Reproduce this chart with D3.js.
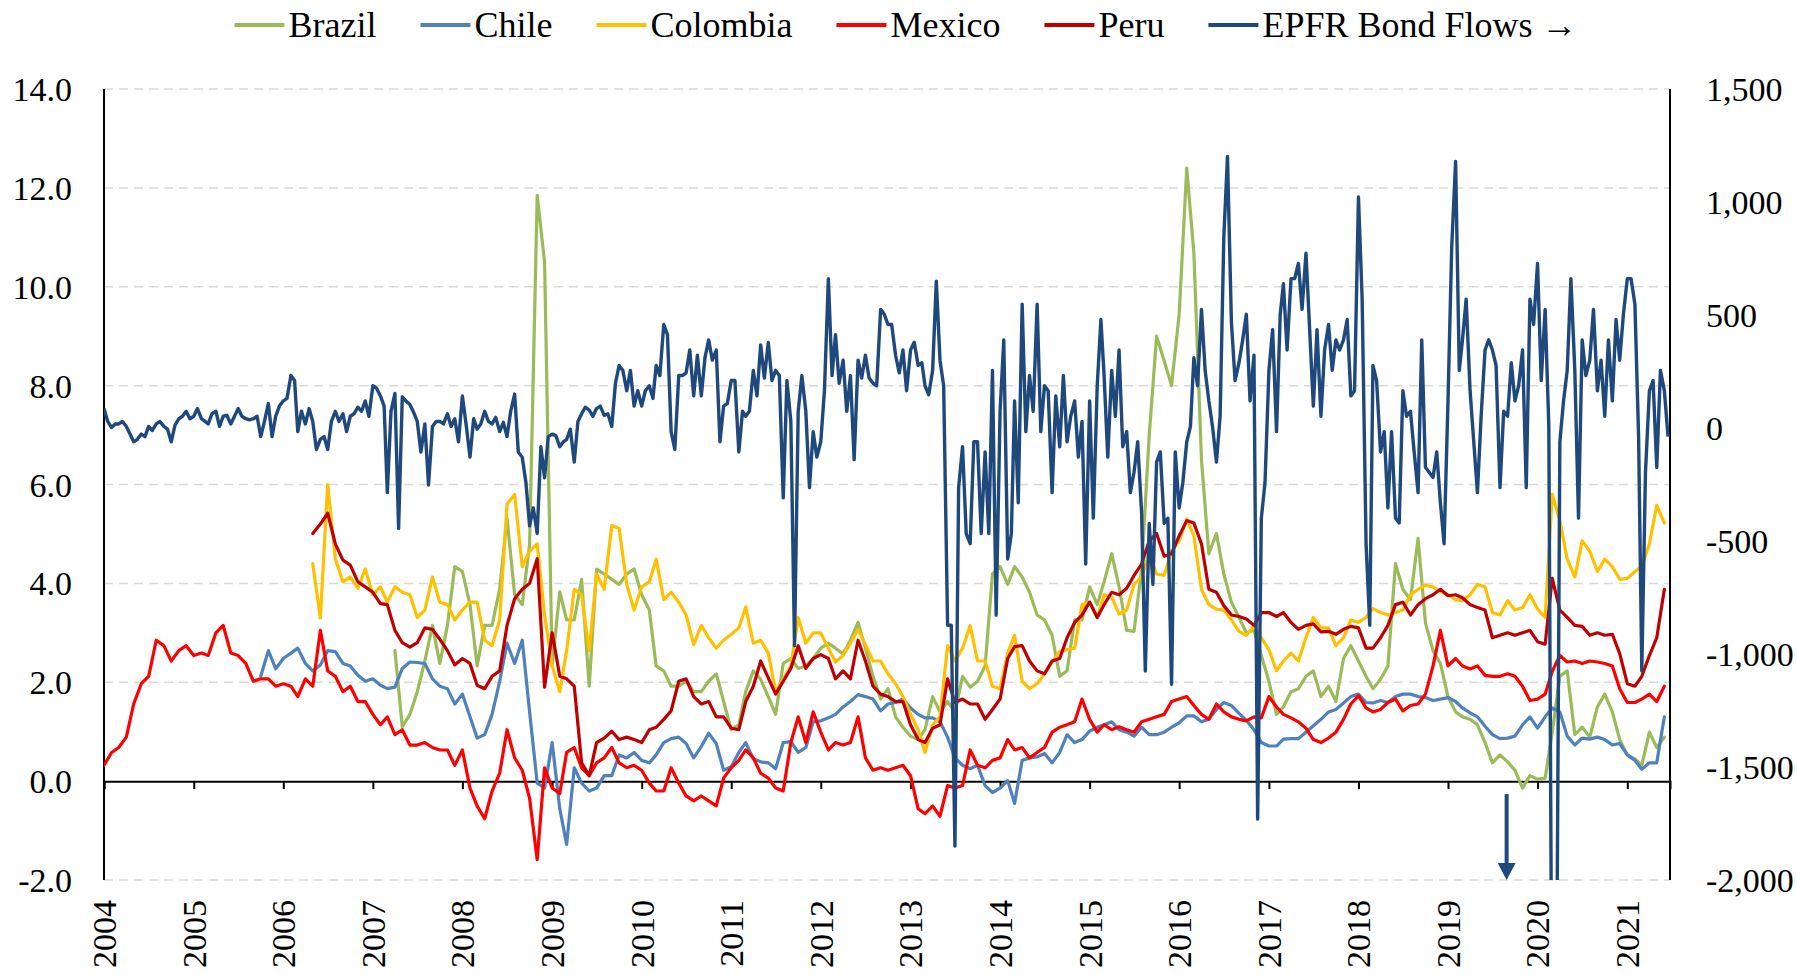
<!DOCTYPE html>
<html>
<head>
<meta charset="utf-8">
<script src="https://cdn.jsdelivr.net/npm/d3@7"></script>
<style>
  html, body { margin: 0; padding: 0; background: #fff; }
  svg { display: block; }
</style>
</head>
<body>
<div id="chart"></div>
<script>
// ---- data (monthly for countries starting Jan 2004, semi-monthly for EPFR) ----
const seriesNames = ["Brazil", "Chile", "Colombia", "Mexico", "Peru"];
const seriesColors = ["#9BBB59", "#4F81BD", "#FFC000", "#FF0000", "#C00000"];
const flowName = "EPFR Bond Flows \u2192";
const flowColor = "#1F497D";
const yearTicks = d3.range(2004, 2022);
const leftTicks = [-2, 0, 2, 4, 6, 8, 10, 12, 14];
const rightTicks = [-2000, -1500, -1000, -500, 0, 500, 1000, 1500];

const N = null;
const mexico = [
  0.32, 0.58, 0.68, 0.89, 1.56, 1.97, 2.12, 2.85, 2.74, 2.43, 2.64, 2.74,
  2.54, 2.59, 2.54, 3.0, 3.15, 2.59, 2.54, 2.38, 2.02, 2.07, 2.07, 1.92,
  1.97, 1.92, 1.71, 2.07, 1.92, 3.05, 2.23, 2.12, 1.81, 1.92, 1.61, 1.61,
  1.35, 1.14, 1.3, 0.94, 1.04, 0.73, 0.73, 0.78, 0.68, 0.63, 0.63, 0.32,
  0.63, -0.14, -0.5, -0.76, -0.2, 0.16, 1.04, 0.47, 0.22, -0.35, -1.59, 0.27,
  -0.14, -0.25, 0.58, 0.68, 0.27, 0.11, 0.37, 0.47, 0.68, 0.37, 0.27, 0.32,
  0.22, -0.04, -0.2, -0.2, 0.27, -0.04, -0.3, -0.4, -0.3, -0.4, -0.5, 0.06,
  0.27, 0.42, 0.63, 0.47, 0.16, 0.06, -0.14, -0.2, 0.78, 1.3, 0.78, 1.4,
  0.99, 0.63, 0.78, 0.73, 0.78, 1.3, 0.47, 0.22, 0.27, 0.22, 0.27, 0.32,
  0.11, -0.56, -0.66, -0.5, -0.71, -0.09, -0.14, -0.09, 0.63, 0.32, 0.27, 0.42,
  0.47, 0.84, 0.63, 0.68, 0.47, 0.58, 0.68, 0.99, 1.09, 1.14, 1.2, 1.66,
  1.25, 0.99, 1.14, 1.04, 1.1, 1.04, 0.99, 1.2, 1.25, 1.3, 1.35, 1.61,
  1.66, 1.71, 1.53, 1.35, 1.25, 1.56, 1.4, 1.3, 1.25, 1.22, 1.3, 1.28,
  1.71, 1.5, 1.35, 1.28, 1.2, 1.07, 0.84, 0.78, 0.87, 0.99, 1.25, 1.56,
  1.73, 1.48, 1.4, 1.45, 1.59, 1.66, 1.42, 1.53, 1.56, 1.76, 2.33, 3.05,
  2.33, 2.48, 2.33, 2.27, 2.33, 2.14, 2.12, 2.12, 2.17, 2.12, 1.92, 1.63,
  1.66, 1.76, 2.22, 2.54, 2.41, 2.43, 2.38, 2.43, 2.41, 2.38, 2.33, 1.87,
  1.59, 1.59, 1.66, 1.76, 1.61, 1.92
];
const peru = [
  N, N, N, N, N, N, N, N, N, N, N, N,
  N, N, N, N, N, N, N, N, N, N, N, N,
  N, N, N, N, 5.01, 5.2, 5.42, 4.8, 4.47, 4.37, 4.03, 3.93,
  3.82, 3.59, 3.57, 3.05, 2.8, 2.71, 2.8, 3.1, 3.07, 2.87, 2.64, 2.35,
  2.48, 2.38, 1.94, 1.87, 2.12, 2.23, 3.15, 3.69, 3.88, 4.0, 4.5, 1.9,
  3.0, 2.12, 2.07, 1.92, 0.37, 0.11, 0.78, 0.87, 1.01, 0.84, 0.89, 0.84,
  0.78, 1.04, 1.09, 1.25, 1.42, 2.02, 2.07, 1.71, 1.56, 1.61, 1.3, 1.3,
  1.07, 1.04, 1.61, 1.92, 2.43, 2.09, 1.76, 2.02, 2.28, 2.74, 2.28, 2.48,
  2.56, 2.48, 2.07, 2.23, 2.07, 2.85, 2.43, 1.92, 1.76, 1.71, 1.61, 1.61,
  1.14, 0.84, 0.78, 1.07, 1.14, 2.07, 1.59, 1.66, 1.56, 1.56, 1.25, 1.45,
  1.66, 2.48, 2.72, 2.74, 2.43, 2.23, 2.17, 2.43, 2.48, 2.9, 3.21, 3.36,
  3.62, 3.31, 3.57, 3.82, 3.77, 3.9, 4.16, 4.39, 4.86, 5.01, 4.55, 4.6,
  4.96, 5.27, 5.22, 4.8, 3.88, 3.82, 3.55, 3.36, 3.33, 3.28, 3.15, 3.41,
  3.41, 3.33, 3.41, 3.21, 3.07, 3.15, 3.18, 3.02, 3.03, 2.97, 3.07, 3.13,
  3.1, 2.69, 2.69, 2.9, 3.15, 3.57, 3.62, 3.36, 3.57, 3.69, 3.77, 3.88,
  3.75, 3.77, 3.71, 3.57, 3.51, 3.46, 2.9, 2.95, 3.0, 2.95, 3.0, 3.05,
  2.82, 2.77, 4.1, 3.46, 3.31, 3.15, 3.13, 2.95, 3.0, 2.95, 2.97, 2.58,
  1.97, 1.92, 2.12, 2.54, 2.9, 3.88
];
const colombia = [
  N, N, N, N, N, N, N, N, N, N, N, N,
  N, N, N, N, N, N, N, N, N, N, N, N,
  N, N, N, N, 4.4, 3.3, 6.0, 4.5, 4.03, 4.13, 3.9, 4.29,
  3.77, 3.93, 3.62, 3.93, 3.82, 3.77, 3.31, 3.46, 4.13, 3.62, 3.57, 3.26,
  3.46, 3.62, 3.62, 2.85, 2.74, 3.26, 5.6, 5.8, 4.34, 4.65, 4.8, 3.36,
  2.33, 1.81, 2.64, 3.88, 3.77, 2.64, 4.19, 3.88, 5.17, 5.11, 3.98, 3.46,
  3.93, 4.03, 4.49, 3.67, 3.82, 3.62, 3.36, 2.76, 3.15, 2.9, 2.69, 2.85,
  2.97, 3.1, 3.52, 2.79, 2.85, 2.59, 1.81, 2.07, 2.33, 3.31, 2.79, 3.0,
  3.0, 2.69, 2.41, 2.54, 2.79, 3.07, 2.76, 2.43, 2.43, 2.17, 1.97, 1.71,
  1.35, 1.04, 0.58, 1.14, 1.3, 2.74, 2.43, 2.69, 3.15, 2.43, 2.43, 1.92,
  1.87, 2.59, 2.95, 2.02, 1.87, 1.97, 2.17, 2.41, 2.62, 2.66, 2.69, 3.57,
  3.62, 3.31, 3.77, 3.72, 3.38, 3.46, 3.98, 4.13, 4.6, 4.19, 4.16, 4.65,
  4.86, 5.3, 4.96, 3.88, 3.57, 3.48, 3.46, 3.26, 3.03, 2.95, 3.13, 2.9,
  2.66, 2.23, 2.43, 2.59, 2.43, 2.9, 3.31, 3.1, 3.1, 2.74, 2.9, 3.26,
  3.21, 3.31, 3.49, 3.41, 3.36, 3.41, 3.46, 3.77, 3.88, 3.96, 3.93, 3.84,
  3.77, 3.67, 3.65, 3.77, 3.98, 3.93, 3.41, 3.36, 3.65, 3.46, 3.51, 3.77,
  3.48, 3.31, 5.8, 5.27, 4.49, 4.13, 4.86, 4.65, 4.24, 4.49, 4.34, 4.08,
  4.1, 4.24, 4.34, 4.8, 5.58, 5.22
];
const chile = [
  N, N, N, N, N, N, N, N, N, N, N, N,
  N, N, N, N, N, N, N, N, N, 2.12, 2.64, 2.27,
  2.48, 2.59, 2.69, 2.38, 2.23, 2.35, 2.64, 2.62, 2.38, 2.33, 2.14, 2.02,
  2.07, 1.94, 1.87, 1.9, 2.28, 2.41, 2.4, 2.38, 2.07, 1.92, 1.87, 1.56,
  1.76, 1.3, 0.87, 0.94, 1.35, 2.02, 2.79, 2.38, 2.85, 1.4, -0.04, -0.14,
  0.78, -0.56, -1.28, 0.27, -0.04, -0.2, -0.14, 0.11, 0.11, 0.53, 0.47, 0.58,
  0.42, 0.37, 0.53, 0.78, 0.86, 0.89, 0.76, 0.47, 0.7, 0.97, 0.76, 0.22,
  0.29, 0.58, 0.78, 0.45, 0.39, 0.37, 0.25, 0.78, 0.8, 0.58, 0.68, 1.2,
  1.22, 1.28, 1.35, 1.5, 1.61, 1.75, 1.71, 1.66, 1.42, 1.56, 1.59, 1.66,
  1.48, 1.35, 1.28, 1.28, 1.2, 0.89, 0.47, 0.32, 0.25, 0.32, -0.09, -0.23,
  -0.14, 0.01, -0.45, 0.42, 0.47, 0.49, 0.56, 0.37, 0.58, 0.94, 0.78, 0.84,
  1.01, 1.09, 1.14, 1.2, 1.04, 0.99, 0.91, 1.09, 0.94, 0.94, 0.99, 1.09,
  1.18, 1.32, 1.32, 1.2, 1.25, 1.45, 1.59, 1.53, 1.37, 1.23, 1.04, 0.78,
  0.71, 0.71, 0.85, 0.86, 0.86, 0.99, 1.12, 1.25, 1.4, 1.45, 1.58, 1.71,
  1.76, 1.59, 1.58, 1.63, 1.59, 1.71, 1.76, 1.76, 1.71, 1.69, 1.63, 1.66,
  1.69, 1.61, 1.48, 1.38, 1.3, 1.11, 0.94, 0.86, 0.87, 0.91, 1.14, 1.3,
  1.07, 1.3, 1.48, 1.4, 0.91, 0.73, 0.87, 0.85, 0.89, 0.84, 0.73, 0.76,
  0.53, 0.42, 0.24, 0.37, 0.37, 1.3
];
const brazil = [
  N, N, N, N, N, N, N, N, N, N, N, N,
  N, N, N, N, N, N, N, N, N, N, N, N,
  N, N, N, N, N, N, N, N, N, N, N, N,
  N, N, N, 2.64, 1.1, 1.35, 1.81, 2.43, 3.15, 2.38, 3.15, 4.34,
  4.24, 3.57, 2.33, 3.15, 3.15, 3.88, 5.32, 3.77, 3.57, 4.8, 11.85, 10.5,
  2.33, 3.83, 3.26, 3.26, 4.08, 1.92, 4.29, 4.19, 4.08, 3.98, 4.19, 4.29,
  3.77, 3.46, 2.33, 2.23, 1.92, 1.92, 2.02, 1.81, 1.81, 2.02, 2.17, 1.61,
  1.04, 1.14, 1.81, 2.23, 2.06, 1.71, 1.35, 2.38, 2.48, 2.28, 2.33, 2.48,
  2.69, 2.79, 2.69, 2.57, 2.85, 3.21, 2.69, 2.12, 1.66, 1.87, 1.3, 1.09,
  0.91, 0.84, 1.04, 1.71, 1.4, 1.61, 1.4, 2.12, 1.9, 2.02, 2.33, 4.19,
  4.34, 3.98, 4.34, 4.13, 3.82, 3.36, 3.26, 2.95, 2.12, 2.23, 3.26, 3.26,
  3.93, 3.57, 4.03, 4.6, 3.93, 3.05, 3.03, 4.29, 7.0, 9.0, 8.5, 8.0,
  9.44, 12.4, 10.68, 6.5, 4.6, 5.01, 4.19, 3.62, 3.31, 3.0, 3.05, 2.54,
  2.02, 1.35, 1.5, 1.81, 1.87, 2.12, 2.23, 1.71, 1.92, 1.61, 2.48, 2.74,
  2.43, 2.12, 1.87, 2.06, 2.33, 4.4, 3.88, 3.67, 4.91, 3.2, 2.64, 2.38,
  1.71, 1.4, 1.3, 1.25, 1.14, 0.78, 0.37, 0.53, 0.39, 0.22, -0.14, 0.11,
  0.04, 0.06, 0.99, 2.12, 2.23, 0.94, 1.09, 0.89, 1.5, 1.76, 1.4, 0.84,
  0.53, 0.45, 0.32, 0.99, 0.68, 0.89
];
// EPFR bond flows, two readings per month from Jan 2004
const flows = [
  86, 29, 2, 18, 18, 29, 7, -27, -61, -50,
  -27, -38, 7, -11, 18, 29, 7, -5, -61, 11,
  41, 52, 74, 41, 52, 86, 41, 29, 18, 63,
  74, 7, 52, 56, 18, 52, 86, 52, 41, 36,
  41, 52, -38, 29, 108, -38, 52, 97, 120, 131,
  232, 210, -16, 74, 18, 86, 29, -95, -50, -38,
  -95, 29, 74, 29, 63, -16, 52, 63, 92, 74,
  120, 52, 187, 176, 142, 97, -286, 74, 153, -444,
  138, 120, 104, 70, 29, -106, 18, -252, 7, 29,
  29, 18, 63, 7, 41, -61, 142, 18, -129, 41,
  -5, 18, 74, 29, 18, 47, -16, 25, -38, 74,
  150, -106, -129, -241, -433, -354, -467, -83, -220, -38,
  -27, -34, -83, -61, -50, -5, -151, 29, 63, 92,
  79, 52, 86, 97, 56, 63, 7, 198, 277, 255,
  165, 255, 97, 165, 97, 165, 187, 131, 277, 232,
  458, 413, -16, -95, 232, 232, 244, 345, 142, 322,
  142, 311, 390, 300, 345, -61, 97, 108, 210, 210,
  -106, 74, 52, 74, 255, 142, 368, 221, 379, 210,
  255, 232, -309, 210, 29, -963, 74, 232, 74, -264,
  -16, -129, -61, 165, 661, 232, 413, 198, 300, 74,
  232, -140, 300, 221, 322, 221, 198, 187, 525, 503,
  458, 458, 322, 244, 345, 165, 345, 379, 277, 289,
  187, 147, 255, 650, 300, 187, -873, -873, -1850, -264,
  -83, -467, -512, -61, -61, -467, -106, -467, 255, -828,
  74, 390, -580, -467, 120, -331, 548, -16, 232, 74,
  548, -16, 187, 165, -286, 142, -83, 232, -61, 52,
  120, -129, 29, -602, 120, -399, 187, 480, 232, -129,
  255, 52, 345, -83, -16, -286, -196, -61, -377, -1075,
  -422, -692, -151, -106, -422, -399, -1134, -106, -354, -241,
  -61, 7, 311, 187, 525, 255, 120, 7, -151, 52,
  841, 1202, 469, 210, 289, 390, 503, 120, 322, -1730,
  -399, -241, 255, 435, -16, 503, 638, 345, 661, 661,
  728, 525, 773, 435, 97, 435, 52, 345, 458, 255,
  390, 345, 390, 480, 142, 165, 1022, 570, -512, -873,
  277, 210, -106, -16, -354, -16, -399, -420, 165, 52,
  74, -106, -286, 390, -174, -196, -219, -106, -331, -512,
  120, 796, 1179, 255, 390, 570, 165, -61, -286, 52,
  345, 390, 345, 277, -264, 74, 52, 289, 120, 187,
  345, -264, 570, 458, 728, 210, 525, 7, -3000, -3000,
  -61, 120, 255, 661, 255, -399, 390, 232, 300, 525,
  165, 300, 52, 390, 120, 480, 300, 503, 661, 661,
  548, -38, -1075, -196, 165, 210, -174, 255, 165, -38
];
// off-scale marker (arrow pointing down on the flows axis)
const arrowDate = new Date(2019, 7, 28);
const arrowFrom = -1620;

// ---- layout ----
const width = 1797, height = 974;
const marginLeft = 104, marginRight = 127, marginTop = 89, marginBottom = 94;
const font = "'Liberation Serif', 'Times New Roman', serif";
const tickSize = 34;

// hyphen instead of unicode minus, like the original
const fmtLeft = d => d3.format(".1f")(d).replace("\u2212", "-");
const fmtRight = d => d3.format(",")(d).replace("\u2212", "-");

const x = d3.scaleTime()
  .domain([new Date(2004, 0, 1), new Date(2021, 5, 24)])
  .range([marginLeft, width - marginRight]);
const y = d3.scaleLinear().domain([-2, 14]).range([height - marginBottom, marginTop]);
const y2 = d3.scaleLinear().domain([-2000, 1500]).range([height - marginBottom, marginTop]);

const svg = d3.select("#chart").append("svg")
  .attr("width", width)
  .attr("height", height)
  .attr("viewBox", [0, 0, width, height])
  .style("font-family", font);

svg.append("rect").attr("width", width).attr("height", height).attr("fill", "#fff");

svg.append("clipPath").attr("id", "plot-clip")
  .append("rect")
  .attr("x", marginLeft).attr("y", marginTop)
  .attr("width", width - marginLeft - marginRight)
  .attr("height", height - marginTop - marginBottom);

// gridlines (dashed) from left axis ticks
svg.append("g")
  .selectAll("line")
  .data(leftTicks.filter(d => d !== 0))
  .join("line")
  .attr("x1", marginLeft).attr("x2", width - marginRight)
  .attr("y1", d => y(d)).attr("y2", d => y(d))
  .attr("stroke", "#d9d9d9")
  .attr("stroke-width", 1.5)
  .attr("stroke-dasharray", "9,6");

// left axis labels
svg.append("g")
  .attr("transform", `translate(${marginLeft},0)`)
  .call(d3.axisLeft(y).tickValues(leftTicks).tickFormat(fmtLeft).tickSize(0).tickPadding(32))
  .call(g => g.select(".domain").remove())
  .call(g => g.selectAll(".tick text")
    .attr("font-family", font).attr("font-size", tickSize).attr("fill", "#000").attr("dy", "0.34em"));

// right axis labels
svg.append("g")
  .attr("transform", `translate(${width - marginRight},0)`)
  .call(d3.axisRight(y2).tickValues(rightTicks).tickFormat(fmtRight).tickSize(0).tickPadding(36))
  .call(g => g.select(".domain").remove())
  .call(g => g.selectAll(".tick text")
    .attr("font-family", font).attr("font-size", tickSize).attr("fill", "#000").attr("dy", "0.34em"));

// zero line with year ticks
svg.append("g")
  .attr("transform", `translate(0,${y(0)})`)
  .call(d3.axisBottom(x).tickValues(yearTicks.map(yr => new Date(yr, 0, 1))).tickSize(8).tickFormat(""))
  .call(g => g.select(".domain").attr("stroke", "#000").attr("stroke-width", 2))
  .call(g => g.selectAll(".tick line").attr("stroke", "#000").attr("stroke-width", 2));

// year labels, rotated, under the plot
svg.append("g")
  .selectAll("text")
  .data(yearTicks)
  .join("text")
  .attr("transform", d => `translate(${x(new Date(d, 0, 1))},${height - marginBottom + 20}) rotate(-90)`)
  .attr("text-anchor", "end")
  .attr("dy", "0.35em")
  .attr("font-size", tickSize)
  .attr("fill", "#000")
  .text(d => d);

// vertical axis lines
svg.append("g")
  .selectAll("line")
  .data([marginLeft, width - marginRight])
  .join("line")
  .attr("x1", d => d).attr("x2", d => d)
  .attr("y1", marginTop).attr("y2", height - marginBottom)
  .attr("stroke", "#000")
  .attr("stroke-width", 2);

// country series
const monthDate = i => new Date(2004, i, 1);
const countryData = [brazil, chile, colombia, mexico, peru];
const line = d3.line()
  .defined(d => d != null)
  .x((d, i) => x(monthDate(i)))
  .y(d => y(d));

const plot = svg.append("g").attr("clip-path", "url(#plot-clip)");

plot.selectAll("path.country")
  .data(countryData)
  .join("path")
  .attr("class", "country")
  .attr("fill", "none")
  .attr("stroke", (d, i) => seriesColors[i])
  .attr("stroke-width", 3.2)
  .attr("stroke-linejoin", "round")
  .attr("stroke-linecap", "round")
  .attr("d", line);

// EPFR flows, right axis
const halfMonthDate = k => new Date(2004, Math.floor(k / 2), k % 2 ? 16 : 1);
const flowLine = d3.line()
  .x((d, k) => x(halfMonthDate(k)))
  .y(d => y2(d));

plot.append("path")
  .datum(flows)
  .attr("fill", "none")
  .attr("stroke", flowColor)
  .attr("stroke-width", 3.4)
  .attr("stroke-linejoin", "round")
  .attr("d", flowLine);

// arrow for the off-scale flow
const ax = x(arrowDate);
const tipY = y2(-2000);
svg.append("line")
  .attr("x1", ax).attr("x2", ax)
  .attr("y1", y2(arrowFrom)).attr("y2", tipY - 14)
  .attr("stroke", flowColor)
  .attr("stroke-width", 4);
svg.append("path")
  .attr("d", `M${ax - 9},${tipY - 17} L${ax + 9},${tipY - 17} L${ax},${tipY} Z`)
  .attr("fill", flowColor);

// legend
const legendItems = seriesNames.map((n, i) => ({ name: n, color: seriesColors[i] }))
  .concat([{ name: flowName, color: flowColor }]);
const legend = svg.append("g").attr("font-size", 36);
const legendY = 25;
const sample = 50, sampleGap = 4, itemGap = 44;
let cursor = 0;
const items = legend.selectAll("g")
  .data(legendItems)
  .join("g");
items.append("line")
  .attr("x1", 0).attr("x2", sample)
  .attr("y1", 0).attr("y2", 0)
  .attr("stroke", d => d.color)
  .attr("stroke-width", 4);
items.append("text")
  .attr("x", sample + sampleGap)
  .attr("dy", "0.33em")
  .attr("fill", "#000")
  .text(d => d.name);
items.each(function () {
  const w = d3.select(this).select("text").node().getComputedTextLength();
  d3.select(this).attr("transform", `translate(${cursor},${legendY})`);
  cursor += sample + sampleGap + w + itemGap;
});
const legendWidth = cursor - itemGap;
legend.attr("transform", `translate(${906 - legendWidth / 2},0)`);
</script>
</body>
</html>
